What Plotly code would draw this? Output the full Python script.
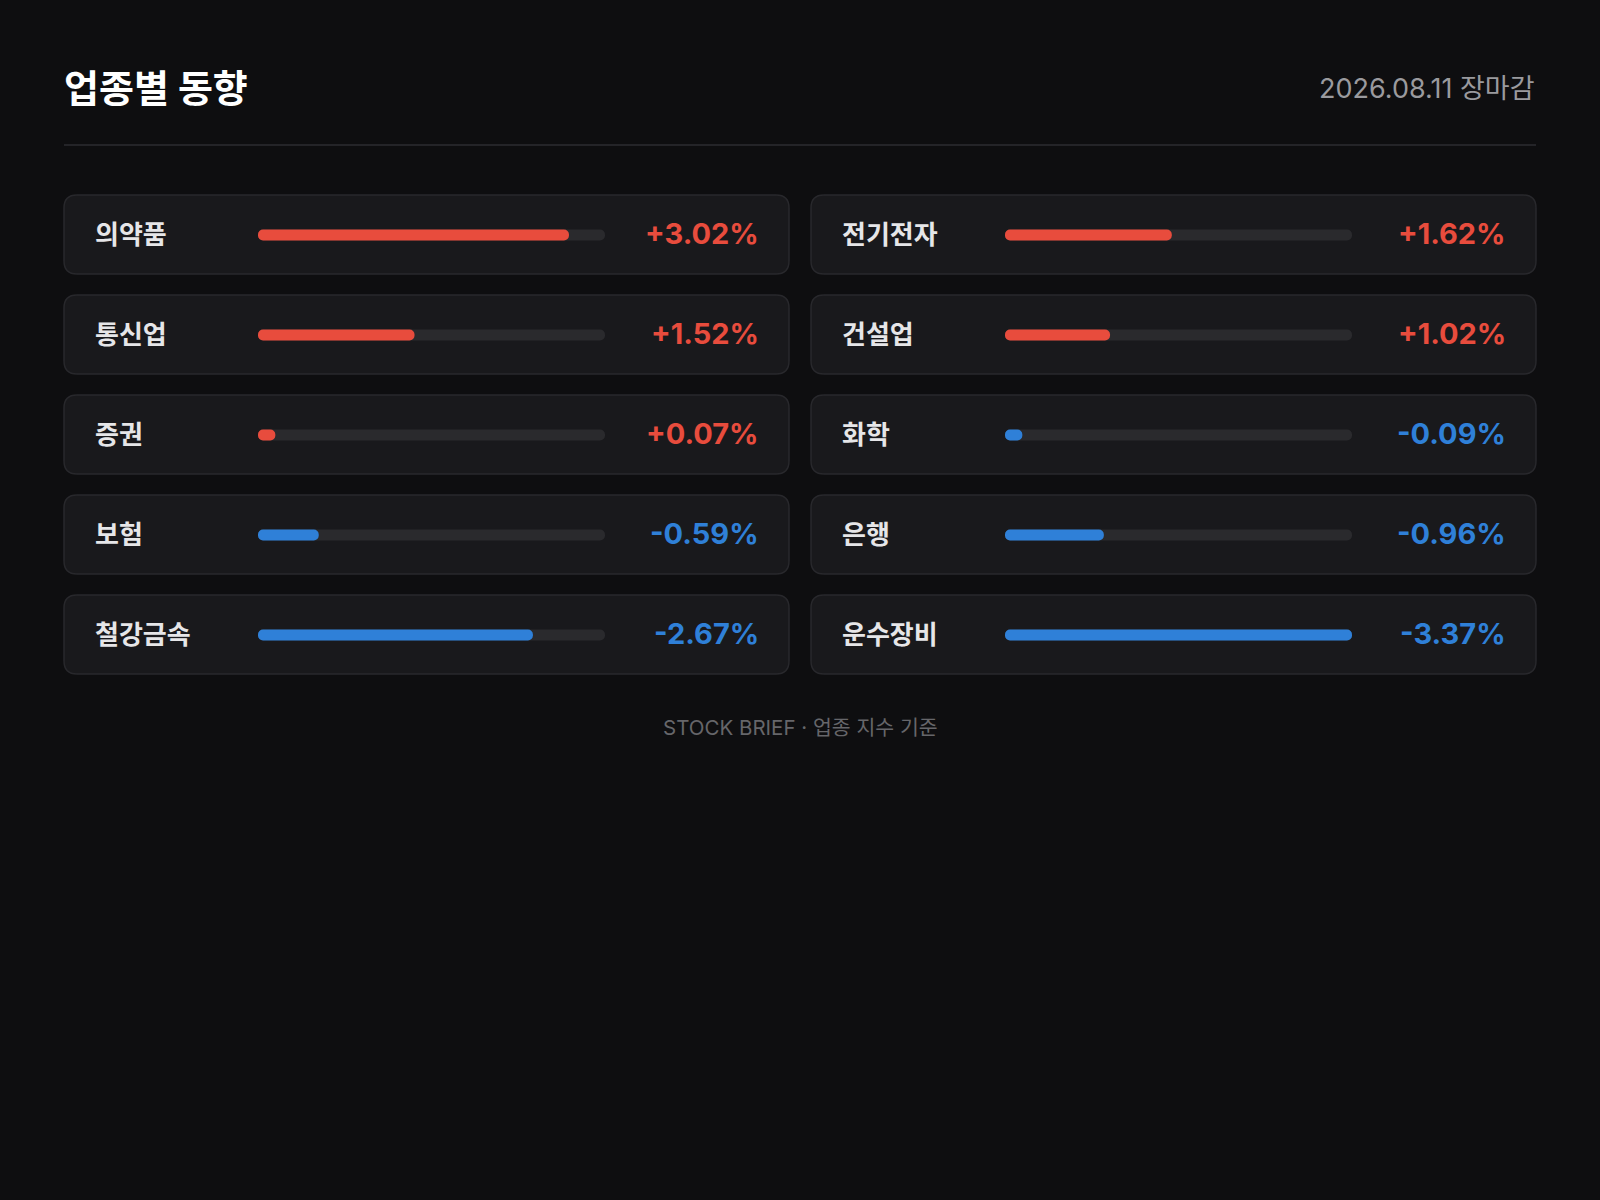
import plotly.graph_objects as go

# ---- data ----
sectors = ["의약품", "전기전자", "통신업", "건설업", "증권", "화학", "보험", "은행", "철강금속", "운수장비"]
changes = [3.02, 1.62, 1.52, 1.02, 0.07, -0.09, -0.59, -0.96, -2.67, -3.37]
title_text = "업종별 동향"
date_text = "2026.08.11 장마감"
footer_text = "STOCK BRIEF · 업종 지수 기준"

# ---- style ----
W, H = 1600, 1200
BG = "#0e0e10"
CARD = "#19191c"
CARD_BORDER = "#28282c"
TRACK = "#2a2a2d"
RED = "#e84c3d"
BLUE = "#2f80d8"
FONT = "Inter, 'Noto Sans CJK KR', 'Noto Sans', sans-serif"

col_x0 = [64, 811]
card_w = 725
row_top0 = 195
row_pitch = 100
card_h = 79
track_px = [(258, 605), (1005, 1352)]
grid_top = 185
n_rows = (len(sectors) + 1) // 2
BAR_W = 0.11

max_abs = max(abs(v) for v in changes)
min_frac = 0.05


def px(x):
    return x / W


def py(y):
    return 1 - y / H


fig = go.Figure()


def add_pill(rows, lengths, colors, axis, custom=None):
    common = dict(orientation="h", y=rows, xaxis=axis, yaxis="y", width=BAR_W,
                  marker=dict(color=colors, line=dict(width=0)), showlegend=False)
    if custom is None:
        common["hoverinfo"] = "skip"
    else:
        common["customdata"] = custom
        common["hovertemplate"] = "%{customdata:+.2f}%<extra></extra>"
    fig.add_trace(go.Bar(base=[0] * len(rows), x=lengths, **common))


for c in range(2):
    idx = [i for i in range(len(sectors)) if i % 2 == c]
    rows = [i // 2 for i in idx]
    vals = [changes[i] for i in idx]
    axis = "x" if c == 0 else "x2"
    add_pill(rows, [max_abs] * len(rows), TRACK, axis)
    add_pill(rows, [max(abs(v), min_frac * max_abs) for v in vals],
             [RED if v >= 0 else BLUE for v in vals], axis, custom=vals)

shapes = []
annotations = []


def rounded_rect(x0, y0, x1, y1, r):
    X0, X1 = px(x0), px(x1)
    Y0, Y1 = py(y0), py(y1)
    rx, ry = r / W, r / H
    return (f"M {X0+rx},{Y0} L {X1-rx},{Y0} Q {X1},{Y0} {X1},{Y0-ry} "
            f"L {X1},{Y1+ry} Q {X1},{Y1} {X1-rx},{Y1} "
            f"L {X0+rx},{Y1} Q {X0},{Y1} {X0},{Y1+ry} "
            f"L {X0},{Y0-ry} Q {X0},{Y0} {X0+rx},{Y0} Z")


for i, (name, v) in enumerate(zip(sectors, changes)):
    c, r = i % 2, i // 2
    x0 = col_x0[c]
    y0 = row_top0 + r * row_pitch
    shapes.append(dict(type="path", xref="paper", yref="paper",
                       path=rounded_rect(x0, y0, x0 + card_w, y0 + card_h, 13),
                       fillcolor=CARD, line=dict(color=CARD_BORDER, width=1.5), layer="below"))
    annotations.append(dict(x=px(x0 + 29), y=r, xref="paper", yref="y", text=name,
                            showarrow=False, xanchor="left", yanchor="middle", yshift=1,
                            font=dict(family=FONT, size=26, color="#e6e6e8", weight=600)))
    annotations.append(dict(x=px(x0 + card_w - 28), y=r, xref="paper", yref="y",
                            text=f"{v:+.2f}%", showarrow=False, xanchor="right", yanchor="middle",
                            yshift=2,
                            font=dict(family=FONT, size=29, color=RED if v >= 0 else BLUE, weight=700)))

# divider
shapes.append(dict(type="line", xref="paper", yref="paper", x0=px(64), x1=px(1536),
                   y0=py(145), y1=py(145), line=dict(color="#2c2c30", width=1.5)))

annotations.append(dict(x=px(62), y=py(88), xref="paper", yref="paper", text=title_text,
                        showarrow=False, xanchor="left", yanchor="middle",
                        font=dict(family=FONT, size=38, color="#ffffff", weight=700)))
annotations.append(dict(x=px(1537), y=py(88), xref="paper", yref="paper", text=date_text,
                        showarrow=False, xanchor="right", yanchor="middle",
                        font=dict(family=FONT, size=27, color="#9a9a9e")))
annotations.append(dict(x=0.5, y=py(727), xref="paper", yref="paper", text=footer_text,
                        showarrow=False, xanchor="center", yanchor="middle",
                        font=dict(family=FONT, size=20.5, color="#66666a")))

axis_common = dict(range=[0, max_abs], visible=False, fixedrange=True)
fig.update_layout(
    width=W, height=H, margin=dict(l=0, r=0, t=0, b=0),
    paper_bgcolor=BG, plot_bgcolor="rgba(0,0,0,0)",
    barmode="overlay", barcornerradius="50%",
    xaxis=dict(domain=[px(track_px[0][0]), px(track_px[0][1])], anchor="y", **axis_common),
    xaxis2=dict(domain=[px(track_px[1][0]), px(track_px[1][1])], anchor="y", **axis_common),
    yaxis=dict(domain=[py(grid_top + n_rows * row_pitch), py(grid_top)],
               range=[n_rows - 0.5, -0.5], visible=False, fixedrange=True),
    shapes=shapes, annotations=annotations,
    font=dict(family=FONT),
)

fig.write_html(
    "out.html",
    config={"displayModeBar": False},
    post_script="document.body.style.margin='0';document.body.style.background='#0e0e10';",
)
